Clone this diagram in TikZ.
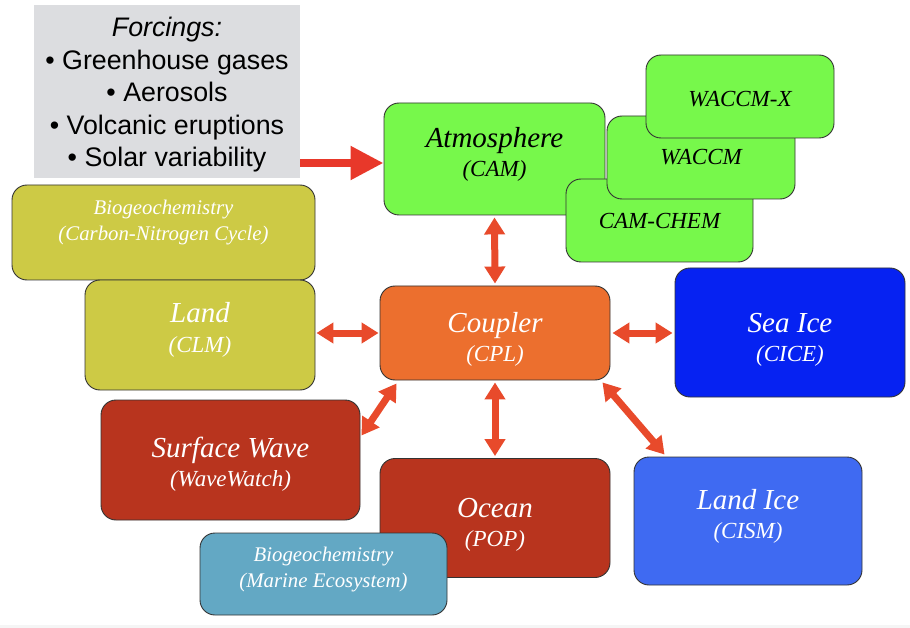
\documentclass[tikz,border=0pt]{standalone}
\usepackage{fontspec}
\setmainfont{Liberation Serif}
\setsansfont{Liberation Sans}
\usetikzlibrary{arrows.meta}
\definecolor{atmgreen}{HTML}{77F84B}
\definecolor{cplorange}{HTML}{EC6F2E}
\definecolor{ocnred}{HTML}{B8341E}
\definecolor{lndolive}{HTML}{CDCA45}
\definecolor{icedark}{HTML}{0622F2}
\definecolor{icelight}{HTML}{3F6AF2}
\definecolor{bgcteal}{HTML}{63A8C4}
\definecolor{frcgray}{HTML}{DCDDE0}
\definecolor{arrred}{HTML}{E84A2B}
\definecolor{frcred}{HTML}{E8382A}
\newcommand{\bigt}[1]{{\fontsize{29}{29}\selectfont #1}}
\tikzset{%
  mdl/.style={draw=black!80, line width=0.9pt, rounded corners=15pt, align=center,
    text=white, font=\fontsize{23}{29}\selectfont\itshape},
  sub/.style={mdl, fill=atmgreen, text=black},
  bgc/.style={mdl, font=\fontsize{20.8}{26}\selectfont\itshape},
  txh/.style={text height=#1, text depth=0pt},
  dbl/.style={{Triangle[width=20pt,length=17pt]}-{Triangle[width=20pt,length=17pt]},
    line width=7pt, color=arrred},
  frc/.style={-{Triangle[width=32pt,length=33pt]}, line width=8pt, color=frcred}
}

\begin{document}
\begin{tikzpicture}[x=1pt, y=-1pt]
  \useasboundingbox (0,0) rectangle (910,628);
  \fill[black!4] (0,625) rectangle (910,628);
  % forcings
  \node[fill=frcgray, minimum width=266pt, minimum height=173pt, align=center, txh=151pt,
    font=\sffamily\fontsize{26.8}{32.5}\selectfont] (frc) at (167,91.5)
    {\textit{Forcings:}\\• Greenhouse gases\\• Aerosols\\• Volcanic eruptions\\• Solar variability};
  % atmosphere group
  \node[sub, txh=36pt, minimum width=221pt, minimum height=112pt] (atm) at (494.5,159) {\bigt{Atmosphere}\\(CAM)};
  \node[sub, minimum width=187pt, minimum height=83pt] (chem) at (659.5,220.5) {CAM-CHEM};
  \node[sub, minimum width=188pt, minimum height=83pt] (wac) at (701,157.5) {WACCM};
  \node[sub, txh=21pt, minimum width=188pt, minimum height=83pt] (wacx) at (740,96.5) {WACCM-X};
  % land
  \node[bgc, txh=17pt, fill=lndolive, minimum width=303pt, minimum height=95pt] (bgcl) at (163.5,232.5)
    {Biogeochemistry\\(Carbon-Nitrogen Cycle)};
  \node[mdl, txh=34pt, fill=lndolive, minimum width=230pt, minimum height=110pt] (lnd) at (200,335) {\bigt{Land}\\(CLM)};
  % coupler and the rest
  \node[mdl, txh=56pt, fill=cplorange, minimum width=230pt, minimum height=94pt] (cpl) at (495,333) {\bigt{Coupler}\\(CPL)};
  \node[mdl, txh=57pt, fill=icedark, minimum width=230pt, minimum height=129pt] (ice) at (790,332.5) {\bigt{Sea Ice}\\(CICE)};
  \node[mdl, txh=34pt, fill=icelight, minimum width=228pt, minimum height=128pt] (glc) at (748,521) {\bigt{Land Ice}\\(CISM)};
  \node[mdl, txh=52pt, fill=ocnred, minimum width=259pt, minimum height=120pt] (wav) at (230.5,460) {\bigt{Surface Wave}\\(WaveWatch)};
  \node[mdl, txh=56pt, fill=ocnred, minimum width=230pt, minimum height=119pt] (ocn) at (495,518) {\bigt{Ocean}\\(POP)};
  \node[bgc, txh=26pt, fill=bgcteal, minimum width=247pt, minimum height=82pt] (bgco) at (323.5,574)
    {Biogeochemistry\\(Marine Ecosystem)};
  % arrows
  \draw[frc] (frc.east |- 0,163) -- ([yshift=-4pt]atm.west);
  \draw[dbl] ([yshift=-2pt]atm.south) -- ([yshift=2pt]cpl.north);
  \draw[dbl] ([xshift=1pt]lnd.east |- cpl.west) -- ([xshift=-1pt]cpl.west);
  \draw[dbl] ([xshift=2pt]cpl.east) -- ([xshift=-2pt]ice.west |- cpl.east);
  \draw[dbl] ([yshift=-2pt]cpl.south) -- ([yshift=2pt]ocn.north);
  \draw[dbl] ([xshift=17pt,yshift=-3pt]cpl.south west) -- ([xshift=1pt,yshift=-36pt]wav.north east);
  \draw[dbl] ([xshift=-8pt,yshift=-2pt]cpl.south east) -- ([xshift=31pt,yshift=2pt]glc.north west);
\end{tikzpicture}
\end{document}
